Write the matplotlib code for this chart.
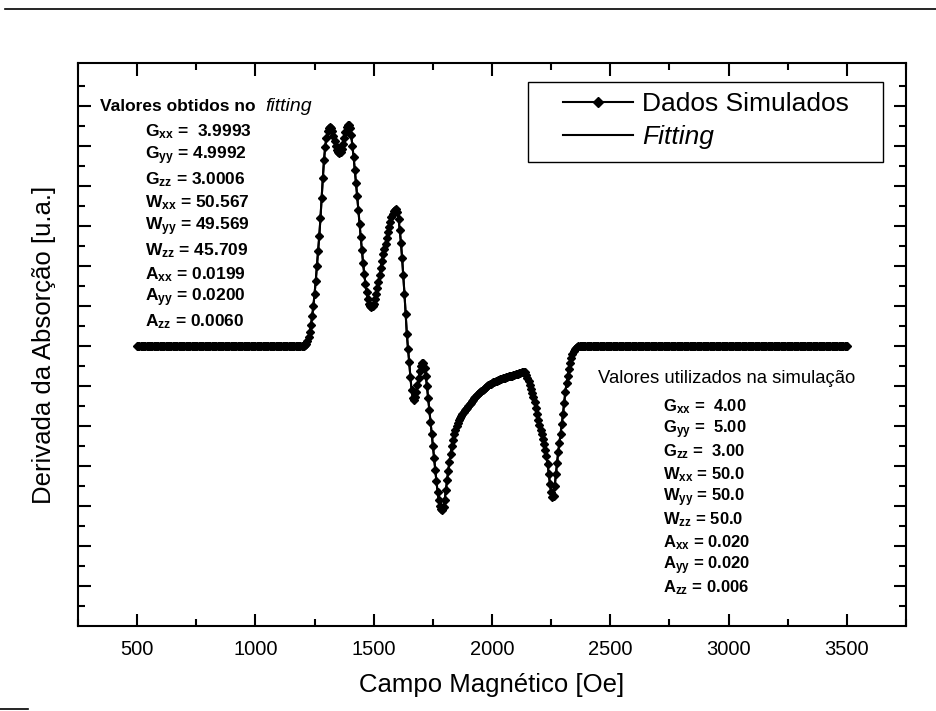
import matplotlib.pyplot as plt
import numpy as np
from matplotlib.lines import Line2D
from matplotlib.patches import Rectangle

plt.rcParams['font.family'] = ['Liberation Sans', 'DejaVu Sans']
plt.rcParams['mathtext.fontset'] = 'custom'
plt.rcParams['mathtext.rm'] = 'Liberation Sans:bold'
plt.rcParams['mathtext.it'] = 'Liberation Sans:italic:bold'
plt.rcParams['mathtext.default'] = 'rm'

# Campo magnetico (Oe), passo de 5 Oe
campo = np.arange(500, 3501, 5)

# regiao ativa 1200..2400 Oe
ativo = [0, 0, 0.02, 0.06, 0.12, 0.22, 0.35, 0.53, 0.75, 1.0,
         1.3, 1.63, 2.0, 2.37, 2.75, 3.2, 3.7, 4.2, 4.65, 4.98,
         5.2, 5.36, 5.45, 5.48, 5.45, 5.37, 5.25, 5.12, 5.0, 4.9,
         4.85, 4.83, 4.85, 4.93, 5.05, 5.2, 5.35, 5.46, 5.52, 5.52,
         5.45, 5.26, 5.0, 4.72, 4.4, 4.08, 3.75, 3.4, 3.05, 2.72,
         2.4, 2.08, 1.8, 1.55, 1.35, 1.18, 1.05, 0.99, 0.98, 1.0,
         1.05, 1.16, 1.3, 1.45, 1.6, 1.77, 1.95, 2.13, 2.3, 2.43,
         2.55, 2.7, 2.85, 2.98, 3.1, 3.21, 3.3, 3.37, 3.4, 3.41,
         3.35, 3.17, 2.9, 2.58, 2.2, 1.77, 1.3, 0.8, 0.3, -0.07,
         -0.4, -0.77, -1.1, -1.3, -1.35, -1.28, -1.15, -0.98, -0.8, -0.63,
         -0.5, -0.43, -0.43, -0.55, -0.75, -1.0, -1.3, -1.6, -1.9, -2.2,
         -2.5, -2.8, -3.1, -3.38, -3.65, -3.85, -4.0, -4.08, -4.1, -4.02,
         -3.85, -3.6, -3.35, -3.12, -2.9, -2.69, -2.5, -2.34, -2.2, -2.09,
         -2.0, -1.92, -1.85, -1.8, -1.75, -1.7, -1.65, -1.61, -1.58, -1.54,
         -1.5, -1.46, -1.42, -1.38, -1.35, -1.31, -1.27, -1.23, -1.2, -1.17,
         -1.15, -1.12, -1.1, -1.07, -1.05, -1.02, -1.0, -0.98, -0.96, -0.94,
         -0.93, -0.91, -0.9, -0.88, -0.87, -0.85, -0.84, -0.83, -0.82, -0.81,
         -0.8, -0.79, -0.78, -0.77, -0.76, -0.75, -0.75, -0.74, -0.73, -0.72,
         -0.71, -0.7, -0.69, -0.68, -0.67, -0.66, -0.65, -0.64, -0.66, -0.72,
         -0.8, -0.88, -0.98, -1.07, -1.17, -1.28, -1.4, -1.55, -1.7, -1.84,
         -1.98, -2.09, -2.2, -2.32, -2.45, -2.6, -2.75, -2.95, -3.2, -3.45,
         -3.65, -3.77, -3.75, -3.5, -3.2, -2.92, -2.65, -2.42, -2.2, -1.95,
         -1.7, -1.42, -1.15, -0.93, -0.75, -0.57, -0.42, -0.3, -0.2, -0.12,
         -0.07, -0.04, -0.02, -0.01, 0, 0, 0, 0, 0, 0,
         0]
simulados = np.concatenate([np.zeros(140), ativo, np.zeros(220)])
fitting = simulados.copy()

valores_fit = [('G', 'xx', ' 3.9993'), ('G', 'yy', '4.9992'), ('G', 'zz', '3.0006'),
               ('W', 'xx', '50.567'), ('W', 'yy', '49.569'), ('W', 'zz', '45.709'),
               ('A', 'xx', '0.0199'), ('A', 'yy', '0.0200'), ('A', 'zz', '0.0060')]
valores_sim = [('G', 'xx', ' 4.00'), ('G', 'yy', ' 5.00'), ('G', 'zz', ' 3.00'),
               ('W', 'xx', '50.0'), ('W', 'yy', '50.0'), ('W', 'zz', '50.0'),
               ('A', 'xx', '0.020'), ('A', 'yy', '0.020'), ('A', 'zz', '0.006')]

fig = plt.figure(figsize=(9.36, 7.11), dpi=100)
ax = fig.add_axes([0.0833, 0.1195, 0.8847, 0.7919])

ax.plot(campo, fitting, color='black', lw=1.5, label='Fitting', zorder=2)
ax.plot(campo, simulados, color='black', lw=1.5, marker='D', markersize=4.5,
        label='Dados Simulados', zorder=3)

ax.set_xlim(250, 3750)
ax.set_ylim(-7.0, 7.07)
ax.set_xticks(np.arange(500, 3501, 500))
ax.set_xticks(np.arange(250, 3751, 250), minor=True)
ax.set_yticks(np.arange(-6, 7, 1))
ax.set_yticks(np.arange(-6.5, 7, 1), minor=True)
ax.set_yticklabels([])
ax.tick_params(which='both', direction='in', top=True, right=True, width=1.5)
ax.tick_params(which='major', length=9, labelsize=14.5, pad=10)
ax.tick_params(which='minor', length=5)
for s in ax.spines.values():
    s.set_linewidth(1.5)

ax.set_xlabel('Campo Magnético [Oe]', fontsize=18.5, labelpad=10)
ax.set_ylabel('Derivada da Absorção [u.a.]', fontsize=18.5, labelpad=6)

# legenda com moldura desenhada a parte
ax.add_patch(Rectangle((0.5435, 0.824), 0.4287, 0.142, transform=ax.transAxes,
                       facecolor='white', edgecolor='black', lw=1.0, zorder=4))
handles = [Line2D([], [], color='black', lw=1.5, marker='D', markersize=5),
           Line2D([], [], color='black', lw=1.5)]
leg = ax.legend(handles, ['Dados Simulados', 'Fitting'], loc='upper left',
                bbox_to_anchor=(0.5857, 0.948), borderaxespad=0, borderpad=0,
                fontsize=19, handlelength=2.65, handletextpad=0.34,
                labelspacing=0.33, frameon=False)
leg.set_zorder(5)
leg.get_texts()[1].set_style('italic')

ax.text(0.027, 0.922, 'Valores obtidos no', transform=ax.transAxes,
        fontsize=12.5, fontweight='bold', va='center')
ax.text(0.226, 0.922, 'fitting', transform=ax.transAxes,
        fontsize=14, style='italic', va='center')
for i, (letra, sub, val) in enumerate(valores_fit):
    ax.text(0.081, 0.878 - i * 0.0422, letra + '$_{' + sub + '}$ = ' + val,
            transform=ax.transAxes, fontsize=12.5, fontweight='bold', va='center')

ax.text(0.628, 0.4405, 'Valores utilizados na simulação', transform=ax.transAxes,
        fontsize=13.3, va='center')
for i, (letra, sub, val) in enumerate(valores_sim):
    ax.text(0.7065, 0.3895 - i * 0.04025, letra + '$_{' + sub + '}$ = ' + val,
            transform=ax.transAxes, fontsize=12, fontweight='bold', va='center')

# linha da pagina digitalizada
fig.add_artist(Line2D([0.005, 1.0], [0.988, 0.988], color='black', lw=1.2))
fig.add_artist(Line2D([0.0, 0.03], [0.003, 0.003], color='black', lw=1.2))

plt.savefig('out.png', dpi=100)
